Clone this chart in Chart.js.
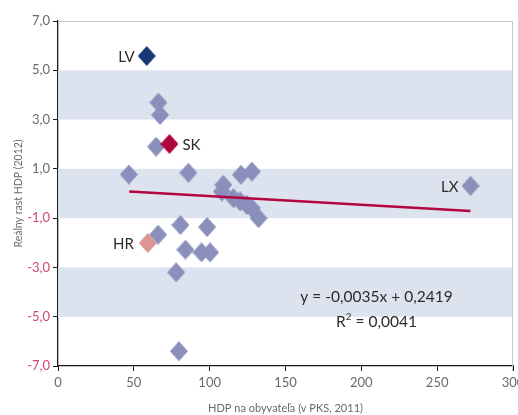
<!DOCTYPE html>
<html>
<head>
<meta charset="utf-8">
<script src="https://cdn.jsdelivr.net/npm/chart.js@4.4.1/dist/chart.umd.min.js"></script>
<style>
  html, body { margin: 0; padding: 0; background: #fff; }
  #wrap { width: 518px; height: 415px; }
</style>
</head>
<body>
<div id="wrap"><canvas id="chart" width="518" height="415"></canvas></div>
<script>
// other countries (grey diamonds)
const otherX = [46.7, 64.7, 66.2, 67.3, 86, 109, 108, 115.7, 120.1, 124.5, 127.8, 132.2, 120.6, 127.8, 66, 80.7, 98.3, 84, 94.6, 100.3, 77.9, 79.7, 272];
const otherY = [0.77, 1.9, 3.69, 3.19, 0.84, 0.35, 0.08, -0.19, -0.32, -0.46, -0.59, -1.0, 0.76, 0.89, -1.67, -1.28, -1.36, -2.28, -2.39, -2.39, -3.2, -6.4, 0.31];

// highlighted countries
const lvPoint = { x: 58.5, y: 5.58 };
const skPoint = { x: 73.5, y: 2.01 };
const hrPoint = { x: 59.2, y: -2.01 };
const lxPoint = { x: 272, y: 0.31 };

// trend line ends
const trendX = [47, 272];
const trendY = [0.08, -0.71];

const yTicks = [-7, -5, -3, -1, 1, 3, 5, 7];
const bands = [[3, 5], [-1, 1], [-5, -3]];
const equationLines = ['y = -0,0035x + 0,2419', 'R2 = 0,0041'];

const FONT = 'Lato, "Open Sans", sans-serif';

const diamond = (color, w, h) => {
  const c = document.createElement('canvas');
  c.width = w; c.height = h;
  const g = c.getContext('2d');
  g.fillStyle = color;
  g.beginPath();
  g.moveTo(w / 2, 0);
  g.lineTo(w, h / 2);
  g.lineTo(w / 2, h);
  g.lineTo(0, h / 2);
  g.closePath();
  g.fill();
  return c;
};

const bandPlugin = {
  id: 'bands',
  beforeDatasetsDraw(chart) {
    const { ctx, chartArea, scales } = chart;
    ctx.save();
    ctx.fillStyle = '#dde3ee';
    bands.forEach(b => {
      const y1 = scales.y.getPixelForValue(b[1]);
      const y0 = scales.y.getPixelForValue(b[0]);
      ctx.fillRect(chartArea.left, y1, chartArea.right - chartArea.left, y0 - y1);
    });
    ctx.strokeStyle = '#c8c8c8';
    ctx.lineWidth = 1;
    ctx.beginPath();
    ctx.moveTo(chartArea.left, chartArea.top + 0.5);
    ctx.lineTo(chartArea.right, chartArea.top + 0.5);
    ctx.moveTo(chartArea.right - 0.5, chartArea.top);
    ctx.lineTo(chartArea.right - 0.5, chartArea.bottom + 5);
    ctx.stroke();
    ctx.restore();
  }
};

const labelPlugin = {
  id: 'labels',
  afterDatasetsDraw(chart) {
    const { ctx, scales } = chart;
    const px = p => [scales.x.getPixelForValue(p.x), scales.y.getPixelForValue(p.y)];
    ctx.save();
    ctx.fillStyle = '#2b2b2b';
    ctx.font = '15px ' + FONT;
    ctx.textBaseline = 'middle';
    let [x, y] = px(lvPoint);
    ctx.textAlign = 'right';
    ctx.fillText('LV', x - 12, y + 1);
    [x, y] = px(hrPoint);
    ctx.fillText('HR', x - 14, y + 1);
    [x, y] = px(lxPoint);
    ctx.fillText('LX', x - 12, y + 1);
    [x, y] = px(skPoint);
    ctx.textAlign = 'left';
    ctx.fillText('SK', x + 13, y + 1);

    // regression equation
    const cx = scales.x.getPixelForValue(210);
    ctx.textAlign = 'center';
    ctx.font = '15.5px ' + FONT;
    ctx.fillText(equationLines[0], cx, scales.y.getPixelForValue(-4.18));
    const ry = scales.y.getPixelForValue(-5.2);
    const rest = equationLines[1].slice(2);
    const wR = ctx.measureText('R').width;
    ctx.font = '10px ' + FONT;
    const w2 = ctx.measureText('2').width;
    ctx.font = '15.5px ' + FONT;
    const wRest = ctx.measureText(rest).width;
    const start = cx - (wR + w2 + wRest) / 2;
    ctx.textAlign = 'left';
    ctx.fillText('R', start, ry);
    ctx.font = '10px ' + FONT;
    ctx.fillText('2', start + wR, ry - 5);
    ctx.font = '15.5px ' + FONT;
    ctx.fillText(rest, start + wR + w2, ry);
    ctx.restore();
  }
};

const grey = diamond('#8a90bb', 18, 20);

new Chart(document.getElementById('chart'), {
  type: 'scatter',
  data: {
    datasets: [
      {
        type: 'line',
        data: trendX.map((x, i) => ({ x: x, y: trendY[i] })),
        borderColor: '#b3053f',
        borderWidth: 2.6,
        pointRadius: 0,
        order: 0
      },
      {
        data: [lvPoint],
        pointStyle: diamond('#163a78', 18, 20),
        order: 1
      },
      {
        data: [skPoint],
        pointStyle: diamond('#b0063e', 18, 20),
        order: 1
      },
      {
        data: [hrPoint],
        pointStyle: diamond('#dc9494', 18, 20),
        order: 2
      },
      {
        data: otherX.map((x, i) => ({ x: x, y: otherY[i] })),
        pointStyle: grey,
        order: 3
      }
    ]
  },
  options: {
    responsive: false,
    animation: false,
    events: [],
    layout: { padding: { top: 21, right: 5, left: 0, bottom: 0 } },
    plugins: {
      legend: { display: false },
      tooltip: { enabled: false }
    },
    scales: {
      x: {
        type: 'linear',
        min: 0,
        max: 300,
        border: { display: true, color: '#1a1a1a', width: 1.3 },
        grid: { display: true, drawOnChartArea: false, drawTicks: true, tickLength: 5, color: '#1a1a1a' },
        ticks: { stepSize: 50, color: '#6a6a6a', font: { family: FONT, size: 13 }, padding: 4 },
        title: {
          display: true,
          text: 'HDP na obyvateľa (v PKS, 2011)',
          color: '#6a6a6a',
          font: { family: FONT, size: 11 },
          padding: { top: 8, bottom: 0 }
        },
        afterFit: s => { s.height = 49; s.paddingRight = 0; }
      },
      y: {
        type: 'linear',
        min: -7,
        max: 7,
        afterBuildTicks: s => { s.ticks = yTicks.map(v => ({ value: v })); },
        border: { display: true, color: '#1a1a1a', width: 1.3 },
        grid: { display: true, drawOnChartArea: false, drawTicks: true, tickLength: 5, color: '#1a1a1a' },
        ticks: {
          color: c => (c.tick && c.tick.value < 0 ? '#d2456f' : '#6a6a6a'),
          font: { family: FONT, size: 13 },
          padding: 3,
          callback: v => v.toFixed(1).replace('.', ',')
        },
        title: {
          display: true,
          text: 'Reálny rast HDP (2012)',
          color: '#6a6a6a',
          font: { family: FONT, size: 10.5 },
          padding: { top: 12, bottom: 0 }
        },
        afterFit: s => { s.width = 58; }
      }
    }
  },
  plugins: [bandPlugin, labelPlugin]
});
</script>
</body>
</html>
